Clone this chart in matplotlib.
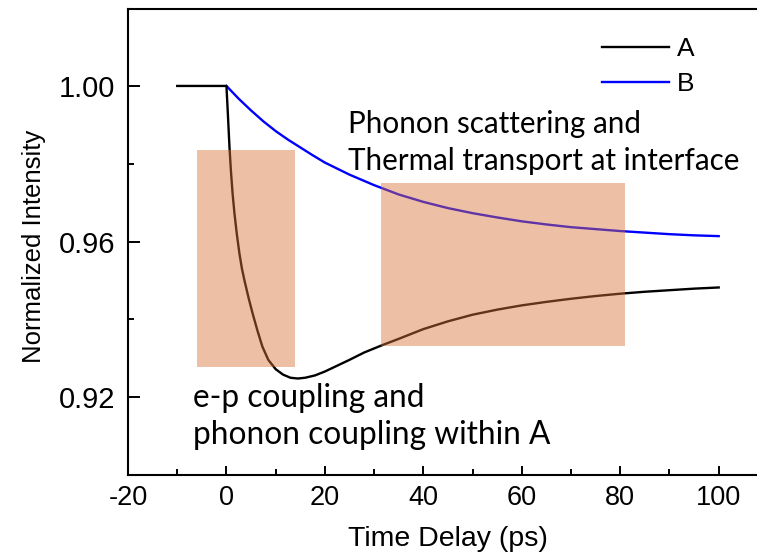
import matplotlib
matplotlib.use("Agg")
import matplotlib.pyplot as plt
from matplotlib.patches import Rectangle
from matplotlib.ticker import MultipleLocator, FormatStrFormatter

# ---------------- data ----------------
time_a = [-10, 0, 0.3, 0.61, 0.9, 1.25, 1.63, 2.1, 2.65, 3.15, 3.66, 4.5, 5.3, 6.3, 7.3, 8.5,
          10, 11.5, 13, 14.5, 16, 18, 20, 22.5, 25, 28, 31.5, 35, 40, 45, 50,
          55, 60, 65, 70, 75, 80, 85, 90, 95, 100]
intensity_a = [1.0, 1.0, 0.9925, 0.9844, 0.9783, 0.9723, 0.9672, 0.9620, 0.9568, 0.9530, 0.9500,
               0.9455, 0.9416, 0.9371, 0.9330, 0.9296, 0.9272, 0.9258, 0.9250, 0.9248, 0.9250,
               0.9256, 0.9266, 0.9281, 0.9296, 0.9315, 0.9333, 0.9350, 0.9375, 0.9395, 0.9412,
               0.9425, 0.9436, 0.9445, 0.9453, 0.9460, 0.9466, 0.9471, 0.9475, 0.9479, 0.9482]

time_b = [0, 2.5, 5, 7.5, 10, 12.5, 15, 17.5, 20, 25, 30, 35, 40, 45, 50, 55, 60,
          65, 70, 75, 80, 85, 90, 95, 100]
intensity_b = [1.0, 0.9967, 0.9937, 0.9909, 0.9884, 0.9862, 0.9842, 0.9822, 0.9803, 0.9772,
               0.9745, 0.9721, 0.9702, 0.9686, 0.9673, 0.9662, 0.9652, 0.9644, 0.9637, 0.9632,
               0.9627, 0.9623, 0.9619, 0.9616, 0.9614]

series_labels = ["A", "B"]
series_colors = ["black", "#0000ff"]

# shaded regions: (x0, x1, y0, y1) in data units
region_fast = (-5.9, 14.0, 0.9277, 0.9835)
region_slow = (31.3, 80.9, 0.9331, 0.9750)

note_slow = ["Phonon scattering and", "Thermal transport at interface"]
note_fast = ["e-p coupling and", "phonon coupling within A"]

x_label = "Time Delay (ps)"
y_label = "Normalized Intensity"

# ---------------- figure ----------------
W, H = 757, 557
plt.rcParams["font.family"] = ["Liberation Sans", "DejaVu Sans"]
plt.rcParams["axes.unicode_minus"] = False
fig = plt.figure(figsize=(W / 100, H / 100), dpi=100)

ax_l, ax_r, ax_t, ax_b = 128, 763, 9.3, 475
ax = fig.add_axes([ax_l / W, 1 - ax_b / H, (ax_r - ax_l) / W, (ax_b - ax_t) / H])

ax.plot(time_b, intensity_b, color=series_colors[1], lw=1.7, label=series_labels[1], zorder=2)
ax.plot(time_a, intensity_a, color=series_colors[0], lw=1.7, label=series_labels[0], zorder=3)

for (x0, x1, y0, y1) in (region_fast, region_slow):
    ax.add_patch(Rectangle((x0, y0), x1 - x0, y1 - y0, facecolor="#d87438",
                           edgecolor="none", alpha=0.45, zorder=4))

ax.set_xlim(-20, 109)
ax.set_ylim(0.90, 1.0197)

ax.xaxis.set_major_locator(MultipleLocator(20))
ax.xaxis.set_minor_locator(MultipleLocator(10))
ax.yaxis.set_major_formatter(FormatStrFormatter("%.2f"))
ax.set_yticks([0.92, 0.96, 1.00])
ax.set_yticks([0.94, 0.98], minor=True)

ax.tick_params(axis="both", which="both", direction="in", width=1.4, top=False, right=False)
ax.tick_params(axis="x", which="major", length=6.5, pad=7, labelsize=19.5)
ax.tick_params(axis="x", which="minor", length=4.3)
ax.tick_params(axis="y", which="major", length=8.6, pad=9, labelsize=21)
ax.tick_params(axis="y", which="minor", length=4.3)

for s in ax.spines.values():
    s.set_linewidth(1.5)
ax.spines["right"].set_visible(False)

ax.set_xlabel(x_label, fontsize=20.5)
ax.set_ylabel(y_label, fontsize=18.5)
ax.xaxis.set_label_coords((448 - ax_l) / (ax_r - ax_l), -(526 - ax_b) / (ax_b - ax_t))
ax.yaxis.set_label_coords(-(ax_l - 46) / (ax_r - ax_l), 1 - (246 - ax_t) / (ax_b - ax_t))

# legend
handles, labels = ax.get_legend_handles_labels()
order = [labels.index(l) for l in series_labels]
ax.legend([handles[i] for i in order], [labels[i] for i in order],
          loc="upper left", bbox_to_anchor=(602 / W, 1 - 37.5 / H), bbox_transform=fig.transFigure,
          frameon=False, borderpad=0, borderaxespad=0, handlelength=2.55,
          handletextpad=0.3, labelspacing=0.39, fontsize=19)

# annotation text (Calibri-like), fitted to target widths
def px_to_data(px, py):
    return ax.transData.inverted().transform(
        fig.transFigure.transform((px / W, 1 - py / H)))

def put_lines(lines, x_px, baselines_px, target_w):
    texts = []
    for line, by in zip(lines, baselines_px):
        x, y = px_to_data(x_px, by)
        texts.append(ax.text(x, y, line, fontsize=18, family=["Lato", "DejaVu Sans"],
                             ha="left", va="baseline", zorder=6))
    fig.canvas.draw()
    r = fig.canvas.get_renderer()
    w = max(t.get_window_extent(r).width for t in texts)
    for t in texts:
        t.set_fontsize(18 * target_w / w)

put_lines(note_slow, 348, [133, 170], 390)
put_lines(note_fast, 193, [407, 444], 355)

fig.savefig("out.png", dpi=100)
